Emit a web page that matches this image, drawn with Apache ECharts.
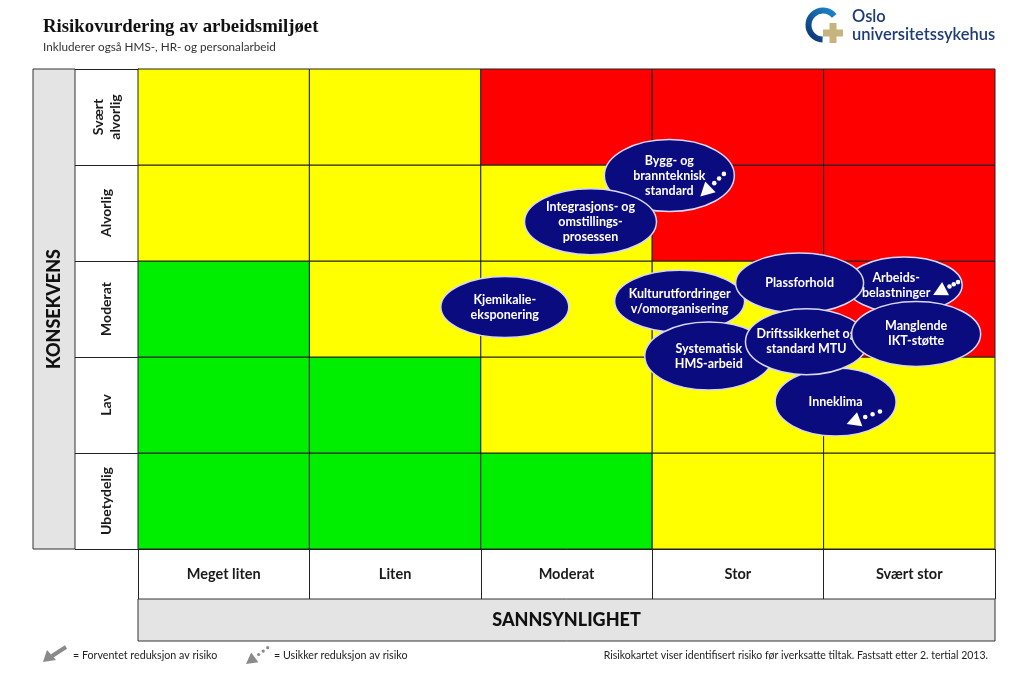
<!DOCTYPE html>
<html><head><meta charset="utf-8">
<script src="https://cdn.jsdelivr.net/npm/echarts@6/dist/echarts.min.js"></script>
<style>html,body{margin:0;padding:0;background:#fff}#c{width:1024px;height:689px}</style>
</head><body><div id="c"></div>
<script>
// ---------- DATA ----------
const probLabels = ['Meget liten', 'Liten', 'Moderat', 'Stor', 'Svært stor'];
const consLabels = ['Ubetydelig', 'Lav', 'Moderat', 'Alvorlig', 'Svært\nalvorlig'];
// risk level per cell (0 = green, 1 = yellow, 2 = red), columns follow probLabels
const levelsUbetydelig = [0, 0, 0, 1, 1];
const levelsLav = [0, 0, 1, 1, 1];
const levelsModerat = [0, 1, 1, 1, 2];
const levelsAlvorlig = [1, 1, 1, 2, 2];
const levelsSvaertAlvorlig = [1, 1, 2, 2, 2];

const riskNames = [
  'Bygg- og\nbrannteknisk\nstandard',
  'Integrasjons- og\nomstillings-\nprosessen',
  'Kjemikalie-\neksponering',
  'Kulturutfordringer\nv/omorganisering',
  'Arbeids-\nbelastninger',
  'Plassforhold',
  'Systematisk\nHMS-arbeid',
  'Inneklima',
  'Driftssikkerhet og\nstandard MTU',
  'Manglende\nIKT-støtte'
];
// probability (0-5 scale) and consequence (0-5 scale)
const riskProb = [3.10, 2.64, 2.14, 3.16, 4.47, 3.86, 3.33, 4.07, 3.90, 4.54];
const riskCons = [3.89, 3.41, 2.52, 2.58, 2.75, 2.77, 2.01, 1.53, 2.16, 2.24];
const riskUncertainReduction = [true, false, false, false, true, false, false, true, false, false];

// ---------- STYLE ----------
const levelColors = ['#00ee00', '#ffff00', '#ff0000'];
const bubbleSize = [[130, 72], [132, 66], [128, 61], [130, 62], [116, 56], [128, 60], [128, 68], [121, 68], [122, 66], [129, 65]];
const textDx = [0, 0, 0, 0, -8, 0, 0, 0, 0, 0];
const arrowGeom = { 0: [[31, 21], [57, -4]], 4: [[29, 10], [56, -4]], 7: [[11, 22], [48, 8]] };
const FONT = 'Lato, "Open Sans", sans-serif';

function ellipsePathAt(cx, cy, rx, ry) {
  const k = 0.5523;
  const ox = rx * k, oy = ry * k;
  return 'M' + (cx - rx) + ',' + cy +
    ' C' + (cx - rx) + ',' + (cy - oy) + ' ' + (cx - ox) + ',' + (cy - ry) + ' ' + cx + ',' + (cy - ry) +
    ' C' + (cx + ox) + ',' + (cy - ry) + ' ' + (cx + rx) + ',' + (cy - oy) + ' ' + (cx + rx) + ',' + cy +
    ' C' + (cx + rx) + ',' + (cy + oy) + ' ' + (cx + ox) + ',' + (cy + ry) + ' ' + cx + ',' + (cy + ry) +
    ' C' + (cx - ox) + ',' + (cy + ry) + ' ' + (cx - rx) + ',' + (cy + oy) + ' ' + (cx - rx) + ',' + cy + ' Z';
}

const levelRows = [levelsUbetydelig, levelsLav, levelsModerat, levelsAlvorlig, levelsSvaertAlvorlig];
const cellData = [];
levelRows.forEach((row, r) => row.forEach((lv, c) => cellData.push([c, r, lv])));
const bubbleData = riskProb.map((x, i) => [x, riskCons[i]]);

function arrowChildren(tip, tail, color, hl, hw, dot) {
  hl = hl || 14; hw = hw || 7.5; dot = dot || 2.3;
  const dx = tail[0] - tip[0], dy = tail[1] - tip[1];
  const len = Math.sqrt(dx * dx + dy * dy);
  const ux = dx / len, uy = dy / len, px = -uy, py = ux;
  const bx = tip[0] + ux * hl, by = tip[1] + uy * hl;
  const kids = [{
    type: 'polygon',
    shape: { points: [tip, [bx + px * hw, by + py * hw], [bx - px * hw, by - py * hw]] },
    style: { fill: color }
  }];
  const rest = len - hl;
  for (let k = 0; k < 3; k++) {
    const t = hl + 2 + (rest - 2) * (k + 0.5) / 3;
    kids.push({ type: 'circle', shape: { cx: tip[0] + ux * t, cy: tip[1] + uy * t, r: dot }, style: { fill: color } });
  }
  return kids;
}

const chart = echarts.init(document.getElementById('c'), null, { renderer: 'canvas' });
chart.setOption({
  animation: false,
  backgroundColor: '#fff',
  title: {
    text: 'Risikovurdering av arbeidsmiljøet',
    subtext: 'Inkluderer også HMS-, HR- og personalarbeid',
    left: 38, top: 13, itemGap: 4,
    textStyle: { fontFamily: '"Liberation Serif", serif', fontWeight: 'bold', fontSize: 18.8, color: '#111' },
    subtextStyle: { fontFamily: FONT, fontSize: 11.7, color: '#333' }
  },
  grid: { left: 138, right: 29, top: 69, bottom: 140, outerBoundsMode: 'none', containLabel: false },
  xAxis: [{
    type: 'category', data: probLabels, position: 'bottom',
    axisLine: { show: true, lineStyle: { color: '#222', width: 1 } },
    axisTick: { show: true, length: 50, lineStyle: { color: '#222' } },
    axisLabel: { margin: 25, verticalAlign: 'middle', fontFamily: FONT, fontSize: 14.5, fontWeight: 'bold', color: '#1a1a1a' },
    splitLine: { show: false },
    name: 'SANNSYNLIGHET', nameLocation: 'middle', nameGap: 71,
    nameTextStyle: { fontFamily: FONT, fontSize: 18, fontWeight: 900, color: '#111', verticalAlign: 'middle' }
  }, {
    type: 'value', min: 0, max: 5, show: false
  }],
  yAxis: [{
    type: 'category', data: consLabels,
    axisLine: { show: true, lineStyle: { color: '#222', width: 1 } },
    axisTick: { show: true, length: 63, lineStyle: { color: '#222' } },
    axisLabel: { rotate: 90, margin: 31.5, align: 'center', verticalAlign: 'middle', lineHeight: 17,
      fontFamily: FONT, fontSize: 14, fontWeight: 'bold', color: '#1a1a1a' },
    splitLine: { show: false },
    name: 'KONSEKVENS', nameLocation: 'middle', nameGap: 84, nameRotate: 90,
    nameTextStyle: { fontFamily: FONT, fontSize: 18, fontWeight: 900, color: '#111', verticalAlign: 'middle', align: 'center' }
  }, {
    type: 'value', min: 0, max: 5, show: false
  }],
  graphic: [
    { type: 'rect', z: -1, shape: { x: 33, y: 69, width: 42, height: 480 }, style: { fill: '#e4e4e4', stroke: '#333', lineWidth: 1 } },
    { type: 'rect', z: -1, shape: { x: 138, y: 599, width: 857, height: 42 }, style: { fill: '#e4e4e4', stroke: '#333', lineWidth: 1 } },
    // logo
    { type: 'arc', shape: { cx: 823, cy: 25, r: 14.5, startAngle: 1.6, endAngle: 5.6, clockwise: true },
      style: { fill: null, lineWidth: 6, stroke: { type: 'linear', x: 0, y: 1, x2: 1, y2: 0, colorStops: [{ offset: 0, color: '#0a2a66' }, { offset: 1, color: '#1e8fd6' }] } } },
    { type: 'rect', shape: { x: 829.5, y: 23, width: 7, height: 20 }, style: { fill: '#c6b37e' } },
    { type: 'rect', shape: { x: 823, y: 29.5, width: 20, height: 7 }, style: { fill: '#c6b37e' } },
    { type: 'text', x: 852, y: 17, style: { text: 'Oslo', font: '600 16.5px ' + FONT, fill: '#1d3b78', verticalAlign: 'middle' } },
    { type: 'text', x: 852, y: 35, style: { text: 'universitetssykehus', font: '600 16.5px ' + FONT, fill: '#1d3b78', verticalAlign: 'middle' } },
    // footnotes
    { type: 'group', children: [
      { type: 'line', shape: { x1: 66, y1: 647, x2: 52, y2: 656 }, style: { stroke: '#8a8a8a', lineWidth: 4 } },
      { type: 'polygon', shape: { points: [[43, 662], [47, 650], [56, 660]] }, style: { fill: '#8a8a8a' } }
    ] },
    { type: 'text', x: 73, y: 656, style: { text: '= Forventet reduksjon av risiko', font: '10.7px ' + FONT, fill: '#222', verticalAlign: 'middle' } },
    { type: 'group', children: arrowChildren([246, 664], [270, 646], '#8a8a8a', 11, 6, 1.6) },
    { type: 'text', x: 274, y: 656, style: { text: '= Usikker reduksjon av risiko', font: '10.7px ' + FONT, fill: '#222', verticalAlign: 'middle' } },
    { type: 'text', x: 988, y: 656, style: { text: 'Risikokartet viser identifisert risiko før iverksatte tiltak. Fastsatt etter 2. tertial 2013.', font: '10.5px ' + FONT, fill: '#222', align: 'right', verticalAlign: 'middle' } }
  ],
  series: [{
    type: 'custom', xAxisIndex: 0, yAxisIndex: 0, z: 2, data: cellData,
    renderItem(params, api) {
      const c = api.coord([api.value(0), api.value(1)]);
      const s = api.size([1, 1]);
      return { type: 'rect', shape: { x: c[0] - s[0] / 2, y: c[1] - s[1] / 2, width: s[0], height: s[1] },
        style: { fill: levelColors[api.value(2)], stroke: '#222', lineWidth: 1 } };
    }
  }, {
    type: 'custom', xAxisIndex: 1, yAxisIndex: 1, z: 4, clip: false, data: bubbleData,
    renderItem(params, api) {
      const i = params.dataIndex;
      const c = api.coord([api.value(0), api.value(1)]);
      const w = bubbleSize[i][0], h = bubbleSize[i][1];
      const kids = [
        { type: 'path', shape: { pathData: ellipsePathAt(c[0], c[1], w / 2, h / 2) },
          style: { fill: '#0b0b80', stroke: '#d8d8f4', lineWidth: 1.5 } },
        { type: 'text', x: c[0] + textDx[i], y: c[1], style: { text: riskNames[i], fill: '#fff', font: 'bold 12.5px ' + FONT,
          align: 'center', verticalAlign: 'middle', lineHeight: 15 } }
      ];
      if (riskUncertainReduction[i] && arrowGeom[i]) {
        const g = arrowGeom[i];
        kids.push(...arrowChildren([c[0] + g[0][0], c[1] + g[0][1]], [c[0] + g[1][0], c[1] + g[1][1]], '#ffffff', 14, 7.5, 2.3));
      }
      return { type: 'group', children: kids };
    }
  }]
});
</script>
</body></html>
